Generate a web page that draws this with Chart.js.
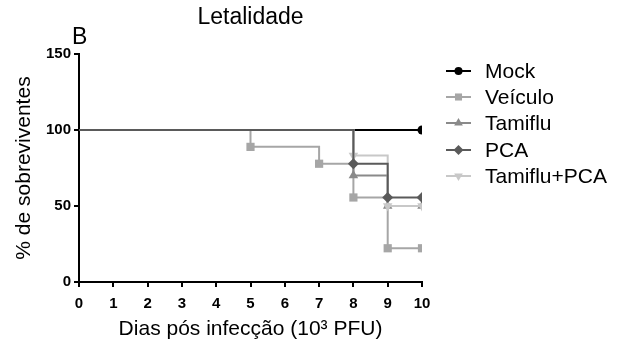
<!DOCTYPE html>
<html>
<head>
<meta charset="utf-8">
<script src="https://cdn.jsdelivr.net/npm/chart.js@4/dist/chart.umd.min.js"></script>
<style>
  html, body { margin: 0; padding: 0; background: #fff; }
  #wrap { width: 630px; height: 349px; }
</style>
</head>
<body>
<div id="wrap"><canvas id="myChart" width="630" height="349"></canvas></div>
<script>
// survival curves (Kaplan-Meier steps), day of event and % survival
const mockDays = [0, 10];
const mockSurv = [100, 100];
const veiculoDays = [0, 5, 7, 8, 9, 10];
const veiculoSurv = [100, 88.9, 77.8, 55.6, 22.2, 22.2];
const tamifluDays = [0, 8, 9, 10];
const tamifluSurv = [100, 70, 50, 50];
const pcaDays = [0, 8, 9, 10];
const pcaSurv = [100, 77.8, 55.6, 55.6];
const tamPcaDays = [0, 8, 9, 10];
const tamPcaSurv = [100, 83.3, 50, 50];

const xTicks = [0, 1, 2, 3, 4, 5, 6, 7, 8, 9, 10];
const yTicks = [0, 50, 100, 150];

const FONT = 'Arial, "Liberation Sans", sans-serif';

function pts(days, surv) {
  return days.map((d, i) => ({ x: d, y: surv[i] }));
}

function series(label, days, surv, color, style, radius, rotation, order) {
  return {
    label: label,
    data: pts(days, surv),
    borderColor: color,
    backgroundColor: color,
    borderWidth: 2,
    stepped: 'before',
    pointStyle: style,
    rotation: rotation,
    pointRadius: ctx => ctx.dataIndex === 0 ? 0 : radius,
    pointBorderWidth: 0,
    pointHoverRadius: 0,
    order: order
  };
}

const datasets = [
  series('Mock', mockDays, mockSurv, '#000000', 'circle', 4.5, 0, 5),
  series('Veículo', veiculoDays, veiculoSurv, '#a6a6a6', 'rect', 5.8, 0, 3),
  series('Tamiflu', tamifluDays, tamifluSurv, '#8a8a8a', 'triangle', 5.5, 0, 2),
  series('PCA', pcaDays, pcaSurv, '#5a5a5a', 'rectRot', 5.5, 0, 0),
  series('Tamiflu+PCA', tamPcaDays, tamPcaSurv, '#c8c8c8', 'triangle', 5.5, 180, 1)
];

// title, panel letter and legend (line + marker) drawn on the canvas
const extras = {
  id: 'extras',
  afterDraw(chart) {
    const ctx = chart.ctx;
    const area = chart.chartArea;
    ctx.save();
    ctx.fillStyle = '#000';
    ctx.textBaseline = 'middle';
    ctx.textAlign = 'center';
    ctx.font = '23px ' + FONT;
    ctx.fillText('Letalidade', (area.left + area.right) / 2, 18);
    ctx.textAlign = 'left';
    ctx.fillText('B', 72, 38);

    const rows = [71, 97, 123, 150, 176];
    ctx.font = '21px ' + FONT;
    chart.data.datasets.forEach((ds, i) => {
      const y = rows[i];
      ctx.strokeStyle = ds.borderColor;
      ctx.lineWidth = 2;
      ctx.beginPath();
      ctx.moveTo(446, y);
      ctx.lineTo(471, y);
      ctx.stroke();
      ctx.fillStyle = ds.backgroundColor;
      Chart.helpers.drawPoint(ctx, {
        pointStyle: ds.pointStyle,
        radius: ds.pointStyle === 'circle' ? 4 : 5,
        rotation: ds.rotation,
        borderWidth: 0
      }, 458.5, y);
      ctx.fillStyle = '#000';
      ctx.fillText(ds.label, 485, y + 1);
    });
    ctx.restore();
  }
};

var ctx = document.getElementById('myChart').getContext('2d');

var chart = new Chart(ctx, {
  type: 'line',
  data: { datasets: datasets },
  plugins: [extras],
  options: {
    responsive: false,
    animation: false,
    layout: { padding: { left: 0, top: 54, right: 208, bottom: 0 } },
    plugins: {
      legend: { display: false },
      title: { display: false },
      tooltip: { enabled: false }
    },
    scales: {
      x: {
        type: 'linear',
        min: 0,
        max: 10,
        afterFit: s => { s.height = 67; },
        afterBuildTicks: s => { s.ticks = xTicks.map(v => ({ value: v })); },
        border: { display: true, color: '#000', width: 2 },
        grid: { drawOnChartArea: false, drawTicks: true, tickLength: 5, color: '#000', lineWidth: 2 },
        ticks: { color: '#000', padding: 8, maxRotation: 0, font: { family: FONT, size: 15, weight: 'bold' } },
        title: {
          display: true,
          text: 'Dias pós infecção (10³ PFU)',
          color: '#000',
          padding: { top: 0, bottom: 7 },
          font: { family: FONT, size: 21 }
        }
      },
      y: {
        type: 'linear',
        min: 0,
        max: 150,
        afterFit: s => { s.width = 79; },
        afterBuildTicks: s => { s.ticks = yTicks.map(v => ({ value: v })); },
        border: { display: true, color: '#000', width: 2 },
        grid: { drawOnChartArea: false, drawTicks: true, tickLength: 5, color: '#000', lineWidth: 2 },
        ticks: { color: '#000', padding: 3, font: { family: FONT, size: 15, weight: 'bold' } },
        title: {
          display: true,
          text: '% de sobreviventes',
          color: '#000',
          padding: { top: 12, bottom: 0 },
          font: { family: FONT, size: 21 }
        }
      }
    }
  }
});
</script>
</body>
</html>
